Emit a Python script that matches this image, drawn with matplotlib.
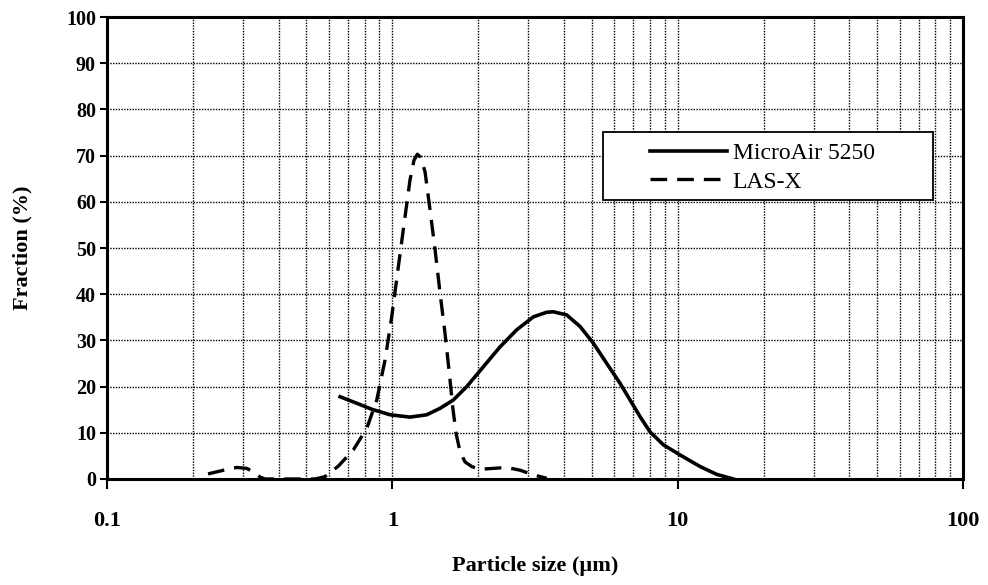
import numpy as np
import matplotlib
matplotlib.use("Agg")
import matplotlib.pyplot as plt
from matplotlib.patches import Rectangle
from matplotlib.ticker import LogLocator, NullFormatter, FixedLocator

# MicroAir 5250 (solid)
micro_x = [0.656, 0.750, 0.847, 0.982, 1.153, 1.320, 1.470, 1.636, 1.823, 2.085, 2.385, 2.729,
           3.121, 3.478, 3.667, 4.087, 4.550, 5.064, 5.643, 6.284, 6.811, 7.382, 8.002, 8.911,
           10.20, 11.98, 13.71, 15.68]
micro_y = [17.8, 16.4, 15.1, 13.9, 13.4, 13.9, 15.3, 17.1, 20.0, 24.3, 28.6, 32.3,
           35.1, 36.1, 36.2, 35.5, 33.0, 29.4, 25.0, 20.7, 17.1, 13.5, 10.2, 7.4,
           5.2, 2.7, 1.0, 0.0]

# LAS-X (dashed)
las_x = [0.226, 0.256, 0.285, 0.309, 0.335, 0.344, 0.358, 0.45, 0.536, 0.580, 0.605,
         0.647, 0.730, 0.814, 0.882, 0.943, 0.995, 1.050, 1.108, 1.153, 1.191, 1.224,
         1.258, 1.302, 1.356, 1.412, 1.470, 1.530, 1.584, 1.628, 1.672, 1.727, 1.798,
         1.898, 2.030, 2.259, 2.518, 2.804, 3.121, 3.478]
las_y = [1.1, 1.9, 2.5, 2.3, 1.1, 0.4, 0.0, 0.0, 0.0, 0.5, 1.4,
         2.8, 6.3, 11.0, 17.1, 25.8, 35.1, 46.0, 56.8, 64.7, 69.0, 70.3,
         69.6, 66.5, 58.2, 49.6, 40.2, 31.5, 22.9, 15.6, 9.9, 5.9, 3.7,
         2.7, 2.1, 2.3, 2.5, 1.9, 0.9, 0.15]

plt.rcParams['font.family'] = ['Liberation Serif', 'DejaVu Serif']
plt.rcParams['font.weight'] = 'bold'

fig = plt.figure(figsize=(9.88, 5.85), dpi=100)
ax = fig.add_axes([0.1083, 0.1812, 0.8664, 0.7897])

ax.plot(micro_x, micro_y, color='black', lw=2.6, label='MicroAir 5250')
ax.plot(las_x, las_y, color='black', lw=2.4, dashes=(5, 3), label='LAS-X')

ax.set_xscale('log')
ax.set_xlim(0.1, 100)
ax.set_ylim(0, 100)
ax.set_yticks(np.arange(0, 101, 10))
ax.xaxis.set_major_locator(FixedLocator([0.1, 1, 10, 100]))
ax.set_xticklabels(['0.1', '1', '10', '100'])
ax.xaxis.set_minor_locator(LogLocator(base=10, subs=np.arange(2, 10)))
ax.xaxis.set_minor_formatter(NullFormatter())

ax.grid(True, which='both', axis='x', color='black', lw=1.0, linestyle=(0, (1, 1)))
ax.grid(True, which='major', axis='y', color='black', lw=1.0, linestyle=(0, (1, 1)))

for s in ax.spines.values():
    s.set_linewidth(2.2)

ax.tick_params(axis='x', which='major', direction='out', length=7, width=1.5, labelsize=16, pad=16)
ax.tick_params(axis='x', which='minor', length=0)
ax.tick_params(axis='y', which='major', direction='out', length=5, width=1.5, labelsize=14.5, pad=3)

ax.set_xlabel('Particle size (\u00b5m)', fontsize=16, fontweight='bold', labelpad=18)
ax.set_ylabel('Fraction (%)', fontsize=16, fontweight='bold', labelpad=24)

# legend box drawn separately so the handles can sit inset like the original
ax.add_patch(Rectangle((0.579, 0.604), 0.386, 0.147, transform=ax.transAxes,
                       facecolor='white', edgecolor='black', lw=1.3, zorder=4))
leg = ax.legend(loc='center left', bbox_to_anchor=(0.634, 0.674), frameon=False,
                borderaxespad=0, borderpad=0, fontsize=17, handlelength=3.26,
                handletextpad=0.26, labelspacing=0.3)
leg.set_zorder(5)
for t in leg.get_texts():
    t.set_fontweight('normal')

fig.savefig('out.png', dpi=100)
